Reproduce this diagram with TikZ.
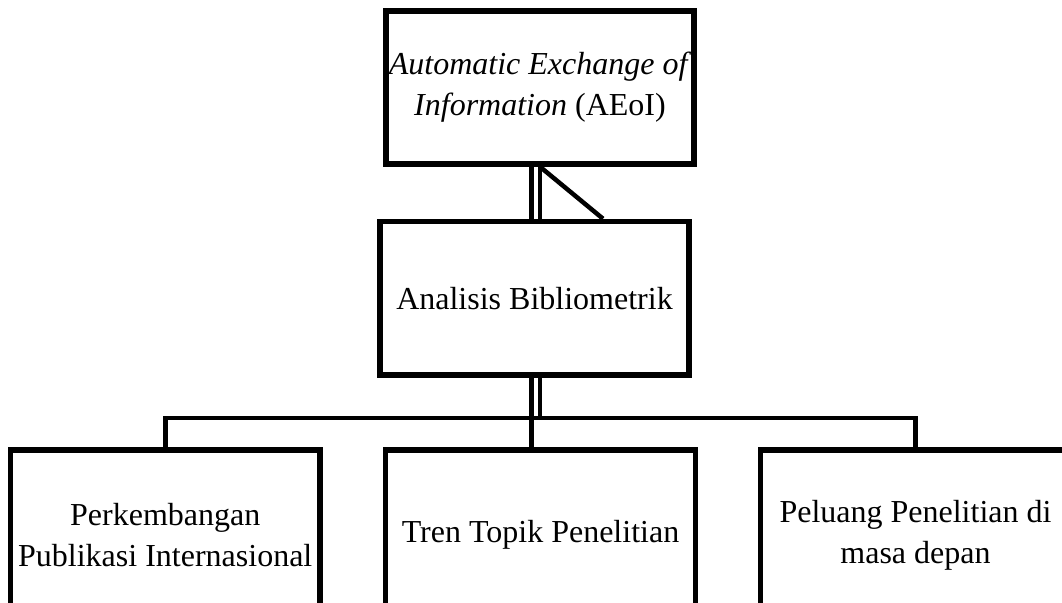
\documentclass[tikz,border=0pt]{standalone}
\usepackage{fontspec}
\setmainfont{Liberation Serif}
\begin{document}
\begin{tikzpicture}[x=1pt,y=-1pt,
  box/.style={draw=black,line width=5.5pt,fill=white,align=center,inner sep=0pt,
    font=\fontsize{32}{41}\selectfont},
  conn/.style={draw=black,line width=4.5pt}]
\fill[white] (0,0) rectangle (1062,602);
\useasboundingbox (0,0) rectangle (1062,602);
\clip (0,0) rectangle (1062,602);
% x positions of connector lines
\coordinate (xa) at (531.5,0);
\coordinate (xb) at (540,0);
\coordinate (xd) at (603,0);
\coordinate (bus) at (0,418);
\node[box,minimum width=308pt,minimum height=153pt] (top) at (540,87.5)
  {\textit{Automatic Exchange of}\\\textit{Information} (AEoI)};
\node[box,minimum width=309pt,minimum height=153.5pt] (mid) at (534.5,298.25)
  {Analisis Bibliometrik};
\node[box,minimum width=309.5pt,minimum height=170pt] (b1) at (165.25,535)
  {Perkembangan\\Publikasi Internasional};
\node[box,minimum width=310pt,minimum height=170pt] (b2) at (540.5,535)
  {Tren Topik Penelitian};
\node[box,minimum width=310pt,minimum height=170pt] (b3) at (915.5,535)
  {Peluang Penelitian di\\masa depan};
% connectors
\draw[conn] (top.south -| xa) -- (mid.north -| xa);
\draw[conn] (top.south -| xb) -- (mid.north -| xb);
\draw[conn] (top.south -| xb) -- (mid.north -| xd);
\draw[conn] (mid.south -| xa) -- (b2.north -| xa);
\draw[conn] (mid.south -| xb) -- (bus -| xb);
\draw[conn] (b1.north) -- (bus -| b1.north) -- (bus -| b3.north) -- (b3.north);
\end{tikzpicture}
\end{document}
